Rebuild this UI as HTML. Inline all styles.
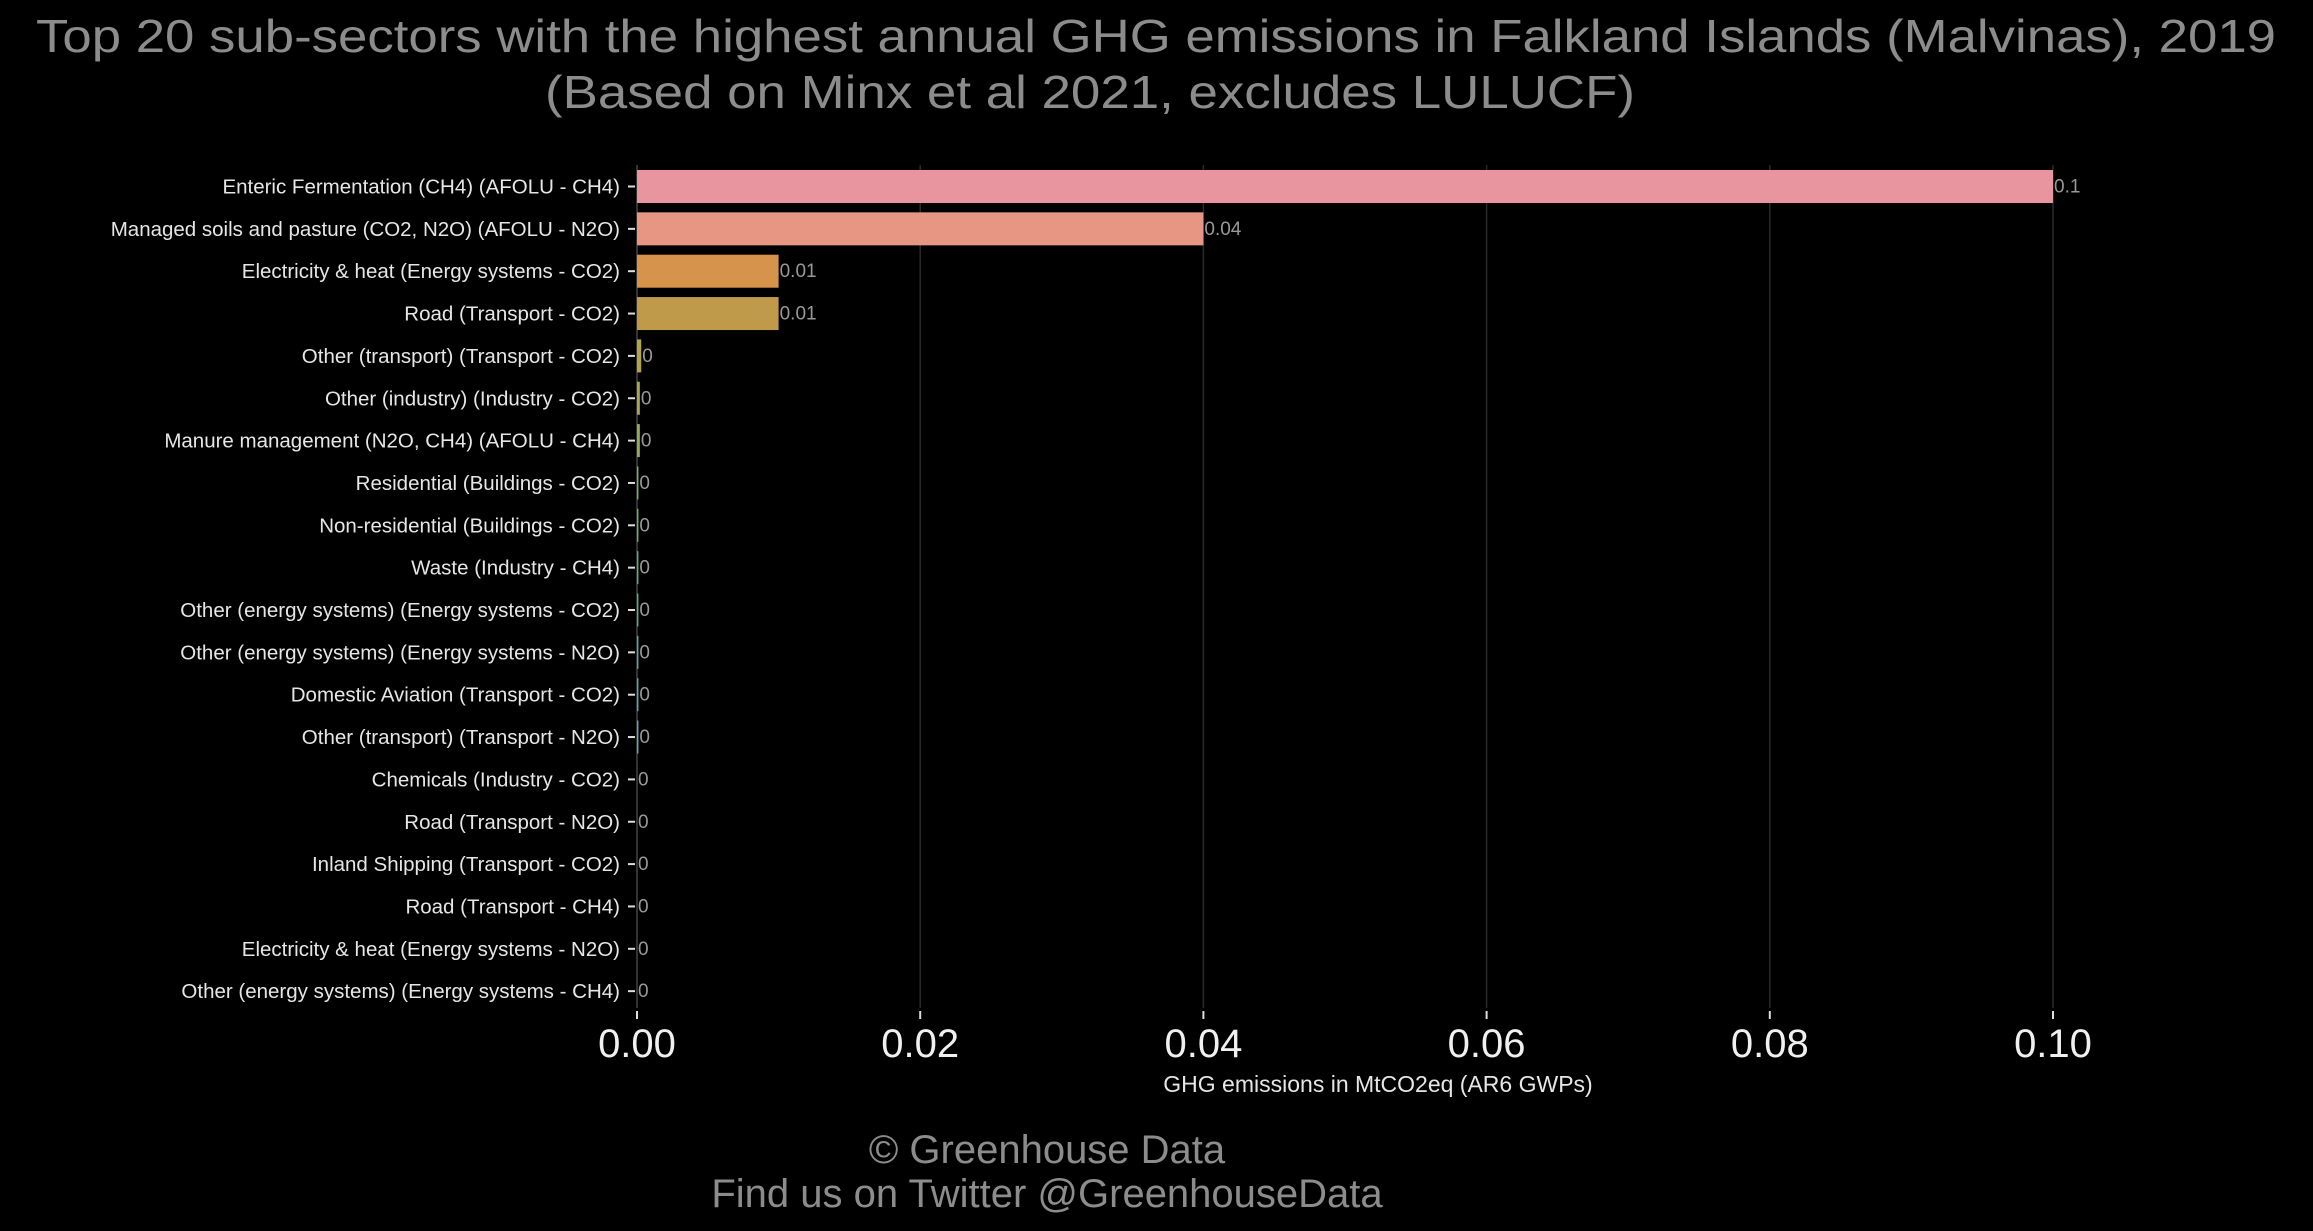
<!DOCTYPE html>
<html><head><meta charset="utf-8"><style>
html,body{margin:0;padding:0;background:#000;}
svg{display:block;font-family:"Liberation Sans",sans-serif;}
</style></head><body>
<svg id="chart" width="2313" height="1231" viewBox="0 0 2313 1231" xmlns="http://www.w3.org/2000/svg">
<rect width="2313" height="1231" fill="#000"/>
<text x="1156" y="52" text-anchor="middle" font-size="46" fill="#8c8c8c" textLength="2240" lengthAdjust="spacingAndGlyphs">Top 20 sub-sectors with the highest annual GHG emissions in Falkland Islands (Malvinas), 2019</text>
<text x="1090" y="108" text-anchor="middle" font-size="46" fill="#8c8c8c" textLength="1090" lengthAdjust="spacingAndGlyphs">(Based on Minx et al 2021, excludes LULUCF)</text>
<g id="grid"></g>
<g id="bars"></g>
<g id="ylabels"></g>
<g id="xaxis"></g>
<text x="1378" y="1092" text-anchor="middle" font-size="23" fill="#e6e6e6">GHG emissions in MtCO2eq (AR6 GWPs)</text>
<text x="1047" y="1163" text-anchor="middle" font-size="40" fill="#8c8c8c">© Greenhouse Data</text>
<text x="1047" y="1207" text-anchor="middle" font-size="40" fill="#8c8c8c">Find us on Twitter @GreenhouseData</text>
</svg>
<script>
const categories = [
"Enteric Fermentation (CH4) (AFOLU - CH4)",
"Managed soils and pasture (CO2, N2O) (AFOLU - N2O)",
"Electricity & heat (Energy systems - CO2)",
"Road (Transport - CO2)",
"Other (transport) (Transport - CO2)",
"Other (industry) (Industry - CO2)",
"Manure management (N2O, CH4) (AFOLU - CH4)",
"Residential (Buildings - CO2)",
"Non-residential (Buildings - CO2)",
"Waste (Industry - CH4)",
"Other (energy systems) (Energy systems - CO2)",
"Other (energy systems) (Energy systems - N2O)",
"Domestic Aviation (Transport - CO2)",
"Other (transport) (Transport - N2O)",
"Chemicals (Industry - CO2)",
"Road (Transport - N2O)",
"Inland Shipping (Transport - CO2)",
"Road (Transport - CH4)",
"Electricity & heat (Energy systems - N2O)",
"Other (energy systems) (Energy systems - CH4)"];
const values = [0.1,0.04,0.01,0.01,0.0003,0.0002,0.0002,0.0001,0.0001,0.0001,0.0001,0.0001,0.0001,0.0001,0,0,0,0,0,0];
const valueLabels = ["0.1","0.04","0.01","0.01","0","0","0","0","0","0","0","0","0","0","0","0","0","0","0","0"];
const xTicks = [0,0.02,0.04,0.06,0.08,0.10];
const xTickLabels = ["0.00","0.02","0.04","0.06","0.08","0.10"];
const colors = ["#e8959f","#e89684","#d6934c","#c09a4b","#b5a24a","#a6a84c","#95ac52","#7fb05d","#66b36c","#4fb47e","#45b391","#47b2a2","#4eb0b2","#58adc1","#66a9cf","#7aa4dc","#949de6","#ad96e8","#c590e4","#d68ed6"];
const NS="http://www.w3.org/2000/svg";
const x0=637,x1=2053,xmax=0.1;
const xs=v=>x0+(v/xmax)*(x1-x0);
const y0=186.5,step=42.35,bh=33;
const ys=i=>y0+i*step;
function mk(tag,attrs,parent){const e=document.createElementNS(NS,tag);for(const k in attrs)e.setAttribute(k,attrs[k]);parent.appendChild(e);return e;}
const grid=document.getElementById('grid'),bars=document.getElementById('bars'),yl=document.getElementById('ylabels'),xa=document.getElementById('xaxis');
xTicks.forEach((t,i)=>{
  const g=mk('line',{x1:xs(t),x2:xs(t),y1:165,y2:1008,stroke:i===0?'#333':'#2a2a2a','stroke-width':i===0?2:1.5},grid);
  
  
  const tk=mk('line',{x1:xs(t),x2:xs(t),y1:1011,y2:1019,stroke:'#ddd','stroke-width':2},xa);
  
  
  const tl=mk('text',{x:xs(t),y:1057,'text-anchor':'middle','font-size':40,fill:'#f0f0f0'},xa);
  
  
  tl.textContent=xTickLabels[i];
});
categories.forEach((c,i)=>{
  const y=ys(i);
  const r=mk('rect',{x:x0,y:y-bh/2,width:Math.max(0,xs(values[i])-x0),height:bh,fill:colors[i]},bars);
  
  
  const v=mk('text',{x:xs(values[i])+1,y:y+6,'font-size':19,fill:'#999'},bars);
  
  
  v.textContent=valueLabels[i];
  const tk=mk('line',{x1:628,x2:635,y1:y,y2:y,stroke:'#ddd','stroke-width':2},yl);
  
  
  const t=mk('text',{x:620,y:y+7,'text-anchor':'end','font-size':20.5,fill:'#e6e6e6'},yl);
  
  
  t.textContent=c;
});
</script>
</body></html>
